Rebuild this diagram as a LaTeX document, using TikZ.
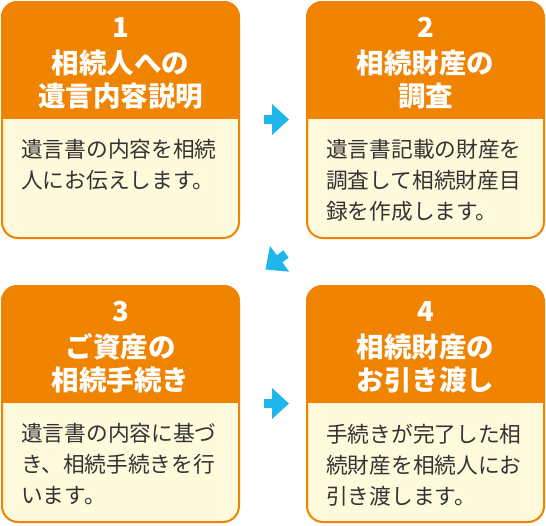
\documentclass[tikz,border=0pt]{standalone}
\usepackage{fontspec}
\setmainfont{Noto Sans CJK JP}
\definecolor{hdr}{HTML}{F08300}
\definecolor{cream}{HTML}{FFFADB}
\definecolor{bodytxt}{HTML}{333333}
\definecolor{arr}{HTML}{1EB6EB}
\tikzset{
  card/.style={draw=hdr, line width=2pt, fill=cream, rounded corners=16pt,
    minimum width=237pt, minimum height=236pt, inner sep=0pt},
  hdrtext/.style={text=white, font=\fontsize{27.5}{33}\selectfont\bfseries, align=center, inner sep=0pt},
  bodytext/.style={text=bodytxt, font=\fontsize{21.7}{31}\selectfont, align=left, anchor=north west, inner sep=0pt},
  arrowshape/.style={fill=arr}
}
\begin{document}
\begin{tikzpicture}[x=1pt,y=-1pt]
\useasboundingbox (0,0) rectangle (546,525);
% cards
\node[card] (b1) at (120.5,120) {};
\node[card] (b2) at (425.5,120) {};
\node[card] (b3) at (120.5,404) {};
\node[card] (b4) at (425.5,404) {};
% headers
\foreach \b/\y in {b1/119,b2/119,b3/403,b4/403}{
  \begin{scope}
    \clip[rounded corners=16pt] (\b.south west) rectangle (\b.north east);
    \fill[hdr] (\b.north west) rectangle (\b.east |- 0,\y);
  \end{scope}
}
% header texts
\node[hdrtext] (h1) at (b1.north |- 0,63) {1\\[3pt]相続人への\\遺言内容説明};
\node[hdrtext] (h2) at (b2.north |- 0,63) {2\\[3pt]相続財産の\\調査};
\node[hdrtext] (h3) at (b3.north |- 0,347) {3\\[3pt]ご資産の\\相続手続き};
\node[hdrtext] (h4) at (b4.north |- 0,347) {4\\[3pt]相続財産の\\お引き渡し};
% body texts
\node[bodytext] (t1) at (21,139.5) {遺言書の内容を相続\\人にお伝えします。};
\node[bodytext] (t2) at (326,139.5) {遺言書記載の財産を\\調査して相続財産目\\録を作成します。};
\node[bodytext] (t3) at (21,423.5) {遺言書の内容に基づ\\き、相続手続きを行\\います。};
\node[bodytext] (t4) at (326,423.5) {手続きが完了した相\\続財産を相続人にお\\引き渡します。};
% arrows
\fill[arrowshape] (264,115) -- (272,115) -- (272,104) -- (289,119.5) -- (272,135) -- (272,124) -- (264,124) -- cycle;
\fill[arrowshape] (264,399) -- (272,399) -- (272,388) -- (289,403.5) -- (272,419) -- (272,408) -- (264,408) -- cycle;
\fill[arrowshape] (265.5,269.5) -- (270,246) -- (276.9,255.2) -- (283.3,250.4) -- (288.7,257.6) -- (282.3,262.4) -- (289.3,271.7) -- cycle;
\end{tikzpicture}
\end{document}
